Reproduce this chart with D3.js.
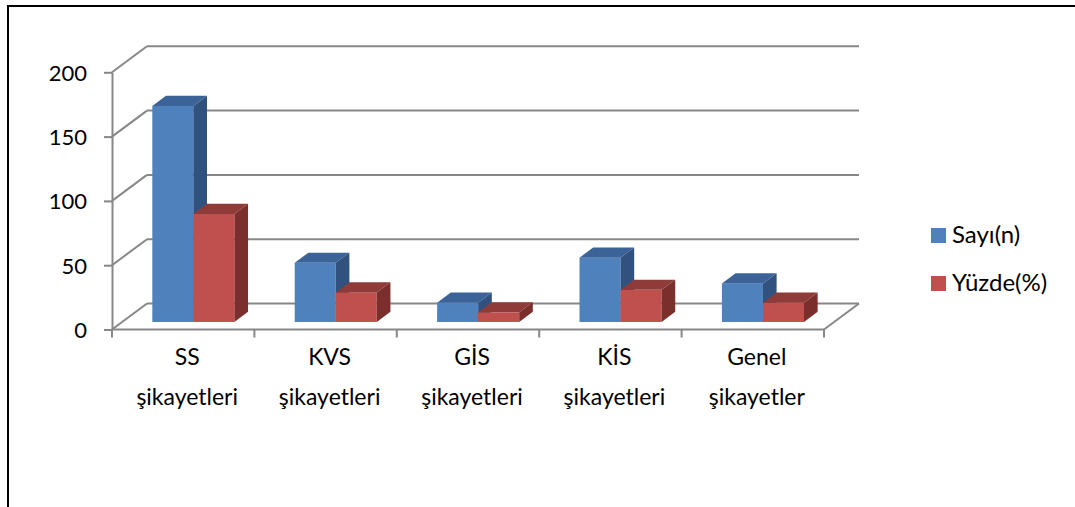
<!DOCTYPE html>
<html><head><meta charset="utf-8">
<script src="https://cdn.jsdelivr.net/npm/d3@7"></script>
<style>
html,body{margin:0;padding:0;background:#fff;}
text{font-family:Lato,"Open Sans",sans-serif;fill:#000;}
</style></head>
<body>
<script>
// ---- data ----
const categories = ["SS\nşikayetleri", "KVS\nşikayetleri", "GİS\nşikayetleri", "KİS\nşikayetleri", "Genel\nşikayetler"];
const seriesNames = ["Sayı(n)", "Yüzde(%)"];
const sayi = [168, 46, 15, 50, 30];
const yuzde = [84, 23, 7.5, 25, 15];
const yTicks = [0, 50, 100, 150, 200];

const seriesValues = [sayi, yuzde];
const frontColors = ["#4F81BD", "#C0504D"];
const topColors = ["#3C6397", "#8E3B39"];
const sideColors = ["#31527E", "#7A2F2D"];

const W = 1075, H = 507;
const svg = d3.select("body").append("svg").attr("width", W).attr("height", H);

// chart frame
svg.append("line").attr("x1", 7).attr("x2", W).attr("y1", 6).attr("y2", 6).attr("stroke", "#000").attr("stroke-width", 2);
svg.append("line").attr("x1", 8).attr("x2", 8).attr("y1", 5).attr("y2", H).attr("stroke", "#000").attr("stroke-width", 2);

// scales
const x0 = d3.scaleBand().domain(categories).range([112, 824]).padding(0);
const bw = x0.bandwidth();
const barW = bw / 3.47;
const x1 = d3.scaleBand().domain(seriesNames).range([(bw - 2 * barW) / 2, (bw + 2 * barW) / 2]).padding(0);
const y = d3.scaleLinear().domain([0, 200]).range([329.5, 72.3]);
const DX = 35, DY = -26;     // depth of the 3D box
const f0 = 0.29, f1 = 0.68;  // bar depth span (fraction)

const gridC = "#878787", gridW = 2;
const [xL, xR] = x0.range();

// back wall gridlines
svg.append("g").selectAll("line").data(yTicks).join("line")
  .attr("x1", xL + DX).attr("x2", xR + DX)
  .attr("y1", d => y(d) + DY).attr("y2", d => y(d) + DY)
  .attr("stroke", gridC).attr("stroke-width", gridW);
// side wall gridlines
svg.append("g").selectAll("line").data(yTicks).join("line")
  .attr("x1", xL).attr("x2", xL + DX)
  .attr("y1", d => y(d)).attr("y2", d => y(d) + DY)
  .attr("stroke", gridC).attr("stroke-width", gridW);
// floor edges
svg.append("line").attr("x1", xL).attr("x2", xR).attr("y1", y(0)).attr("y2", y(0)).attr("stroke", gridC).attr("stroke-width", gridW);
svg.append("line").attr("x1", xR).attr("x2", xR + DX).attr("y1", y(0)).attr("y2", y(0) + DY).attr("stroke", gridC).attr("stroke-width", gridW);

// y axis
const yAxis = d3.axisLeft(y).tickValues(yTicks).tickSize(8).tickSizeOuter(0).tickPadding(17);
const gy = svg.append("g").attr("transform", `translate(${xL},0)`).call(yAxis);
gy.select(".domain").attr("stroke", gridC).attr("stroke-width", gridW);
gy.selectAll(".tick line").attr("stroke", gridC).attr("stroke-width", gridW);
gy.selectAll(".tick text").style("font-family", "Lato").style("font-size", "22px").attr("fill", "#000").attr("dy", "0.36em");

// category ticks
const catTicks = categories.map(c => x0(c)).concat([xR]);
svg.append("g").selectAll("line").data(catTicks).join("line")
  .attr("x1", d => d).attr("x2", d => d)
  .attr("y1", y(0)).attr("y2", y(0) + 8)
  .attr("stroke", gridC).attr("stroke-width", gridW);

// bars
const bars = svg.append("g");
categories.forEach((c, i) => {
  seriesNames.forEach((s, j) => {
    const v = seriesValues[j][i];
    const xf = x0(c) + x1(s) + f0 * DX;
    const yb = y(0) + f0 * DY;
    const yt = y(v) + f0 * DY;
    const dx = (f1 - f0) * DX, dy = (f1 - f0) * DY;
    const w = x1.bandwidth();
    bars.append("rect").attr("x", xf).attr("y", yt).attr("width", w).attr("height", yb - yt)
      .attr("fill", frontColors[j]);
    bars.append("polygon")
      .attr("points", [[xf, yt], [xf + w, yt], [xf + w + dx, yt + dy], [xf + dx, yt + dy]].map(p => p.join(",")).join(" "))
      .attr("fill", topColors[j]);
    bars.append("polygon")
      .attr("points", [[xf + w, yt], [xf + w + dx, yt + dy], [xf + w + dx, yb + dy], [xf + w, yb]].map(p => p.join(",")).join(" "))
      .attr("fill", sideColors[j]);
  });
});

// category labels
const lab = svg.append("g");
categories.forEach(c => {
  const cx = x0(c) + bw / 2 + 4;
  const t = lab.append("text").attr("text-anchor", "middle")
    .attr("x", cx).attr("y", 365)
    .style("font-size", "23px");
  c.split("\n").forEach((line, k) => {
    t.append("tspan").attr("x", cx).attr("dy", k === 0 ? 0 : 40).text(line);
  });
});

// legend
const leg = svg.append("g");
seriesNames.forEach((s, j) => {
  leg.append("rect").attr("x", 931).attr("y", 228 + j * 48).attr("width", 15).attr("height", 15).attr("fill", frontColors[j]);
  leg.append("text").attr("x", 952).attr("y", 243 + j * 48).style("font-size", "24px").text(s);
});
</script>
</body></html>
